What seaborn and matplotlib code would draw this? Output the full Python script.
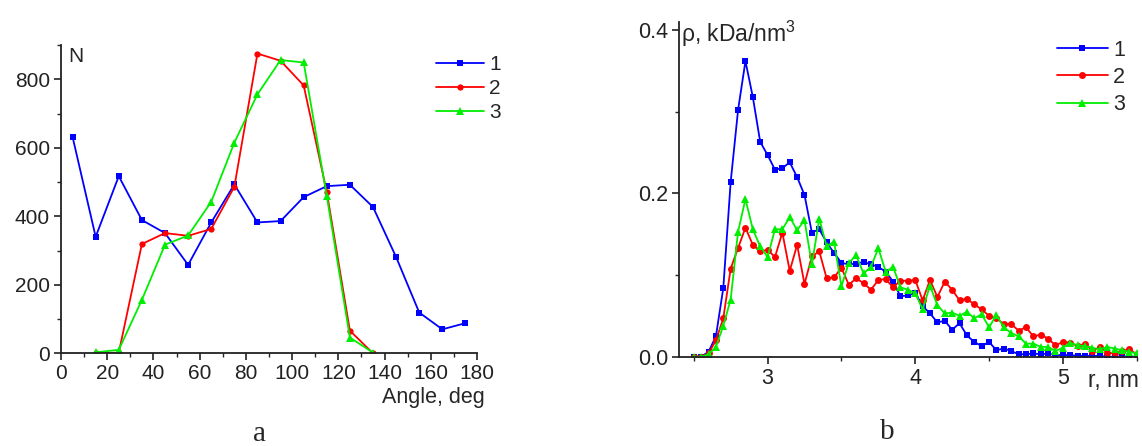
import matplotlib
matplotlib.use("Agg")
import matplotlib.pyplot as plt
import seaborn as sns
import pandas as pd
from matplotlib.ticker import MultipleLocator

# panel a: angle histogram
angle_1 = [5, 15, 25, 35, 45, 55, 65, 75, 85, 95, 105, 115, 125, 135, 145, 155, 165, 175]
count_1 = [632, 340, 517, 389, 351, 258, 382, 493, 382, 386, 456, 488, 492, 427, 281, 119, 70, 88]
angle_23 = [15, 25, 35, 45, 55, 65, 75, 85, 95, 105, 115, 125, 135]
count_2 = [0, 2, 319, 351, 343, 363, 486, 875, 854, 782, 471, 66, 0]
count_3 = [3, 10, 156, 317, 344, 442, 615, 756, 856, 849, 459, 46, 2]

# panel b: density profile
r_nm = [2.5, 2.55, 2.6, 2.65, 2.7, 2.75, 2.8, 2.85, 2.9, 2.95, 3.0,
        3.05, 3.1, 3.15, 3.2, 3.25, 3.3, 3.35, 3.4, 3.45, 3.5,
        3.55, 3.6, 3.65, 3.7, 3.75, 3.8, 3.85, 3.9, 3.95, 4.0,
        4.05, 4.1, 4.15, 4.2, 4.25, 4.3, 4.35, 4.4, 4.45, 4.5,
        4.55, 4.6, 4.65, 4.7, 4.75, 4.8, 4.85, 4.9, 4.95, 5.0,
        5.05, 5.1, 5.15, 5.2, 5.25, 5.3, 5.35, 5.4, 5.45, 5.5]
rho_1 = [0, 0, 0.006, 0.025, 0.084, 0.214, 0.302, 0.362, 0.318, 0.263, 0.247,
         0.229, 0.231, 0.238, 0.220, 0.198, 0.152, 0.156, 0.140, 0.127, 0.115,
         0.113, 0.114, 0.116, 0.113, 0.110, 0.104, 0.092, 0.074, 0.075, 0.078,
         0.062, 0.053, 0.042, 0.044, 0.033, 0.041, 0.026, 0.018, 0.013, 0.018,
         0.008, 0.010, 0.007, 0.003, 0.003, 0.004, 0.003, 0.004, 0.002, 0.002,
         0.002, 0.001, 0.001, 0.001, 0.001, 0.0, 0.0, 0.0, 0.0, 0.0]
rho_2 = [0, 0, 0.004, 0.020, 0.047, 0.108, 0.133, 0.158, 0.137, 0.129, 0.131,
         0.122, 0.152, 0.105, 0.137, 0.089, 0.123, 0.129, 0.096, 0.097, 0.109,
         0.088, 0.096, 0.090, 0.082, 0.094, 0.095, 0.085, 0.093, 0.093, 0.094,
         0.069, 0.094, 0.073, 0.092, 0.082, 0.069, 0.071, 0.064, 0.058, 0.050,
         0.047, 0.040, 0.040, 0.032, 0.036, 0.025, 0.027, 0.022, 0.014, 0.018,
         0.017, 0.013, 0.016, 0.007, 0.012, 0.005, 0.004, 0.007, 0.009, 0.003]
rho_3 = [0, 0, 0.003, 0.012, 0.038, 0.070, 0.153, 0.193, 0.156, 0.135, 0.122,
         0.156, 0.156, 0.171, 0.155, 0.167, 0.113, 0.169, 0.135, 0.141, 0.086,
         0.115, 0.124, 0.102, 0.110, 0.133, 0.104, 0.110, 0.085, 0.082, 0.078,
         0.058, 0.087, 0.063, 0.053, 0.054, 0.050, 0.055, 0.047, 0.052, 0.036,
         0.051, 0.036, 0.029, 0.025, 0.016, 0.016, 0.012, 0.012, 0.007, 0.011,
         0.017, 0.014, 0.013, 0.011, 0.009, 0.012, 0.010, 0.008, 0.006, 0.004]

labels = ["1", "2", "3"]
colors = ["#0000ff", "#ff0000", "#00ee00"]
markers = ["s", "o", "^"]

sns.set_style("ticks")
plt.rcParams["font.family"] = ["Liberation Sans", "DejaVu Sans"]
plt.rcParams["mathtext.fontset"] = "custom"
plt.rcParams["mathtext.rm"] = "Liberation Sans"
plt.rcParams["mathtext.default"] = "regular"
plt.rcParams["axes.linewidth"] = 1.3

W, H = 1142, 446
fig = plt.figure(figsize=(W / 100, H / 100), dpi=100)

def px_axes(left, top, right, bottom):
    return fig.add_axes([left / W, 1 - bottom / H, (right - left) / W, (bottom - top) / H])

ax_a = px_axes(61, 45, 477, 353.3)
ax_b = px_axes(679, 21.9, 1136.7, 356.7)

# panel a
series_a = [(angle_1, count_1), (angle_23, count_2), (angle_23, count_3)]
for (x, y), lab, c, m in zip(series_a, labels, colors, markers):
    sns.lineplot(x=x, y=y, ax=ax_a, color=c, marker=m, markersize=5.5 if m == "^" else 4.5,
                 markeredgewidth=0, linewidth=1.3, label=lab, sort=False, estimator=None)
ax_a.set_xlim(0, 180)
ax_a.set_ylim(0, 900)
ax_a.xaxis.set_major_locator(MultipleLocator(20))
ax_a.xaxis.set_minor_locator(MultipleLocator(10))
ax_a.yaxis.set_major_locator(MultipleLocator(200))
ax_a.yaxis.set_minor_locator(MultipleLocator(100))
ax_a.set_xlabel("")
ax_a.set_ylabel("")

# panel b
for y, lab, c, m in zip([rho_1, rho_2, rho_3], labels, colors, markers):
    sns.lineplot(x=r_nm, y=y, ax=ax_b, color=c, marker=m, markersize=6 if m == "^" else 5,
                 markeredgewidth=0, linewidth=1.3, label=lab, sort=False, estimator=None)
ax_b.set_xlim(2.4, 5.5)
ax_b.set_ylim(0, 0.41)
ax_b.xaxis.set_major_locator(MultipleLocator(1))
ax_b.xaxis.set_minor_locator(MultipleLocator(0.5))
ax_b.yaxis.set_major_locator(MultipleLocator(0.2))
ax_b.yaxis.set_minor_locator(MultipleLocator(0.1))
ax_b.yaxis.set_major_formatter(plt.FormatStrFormatter("%.1f"))
ax_b.set_xlabel("")
ax_b.set_ylabel("")

for ax, fs in ((ax_a, 15), (ax_b, 15.5)):
    sns.despine(ax=ax)
    ax.tick_params(which="major", direction="out", length=5, width=1.2, labelsize=fs, pad=3, colors="#222222")
    ax.tick_params(which="minor", direction="out", length=2.8, width=1.0)
    ax.spines["left"].set_color("#222222")
    ax.spines["bottom"].set_color("#222222")

leg_a = ax_a.legend(loc="upper left", bbox_to_anchor=(436 / W, 1 - 55 / H),
                    bbox_transform=fig.transFigure, frameon=False, fontsize=15,
                    handlelength=2.3, handletextpad=0.25, labelspacing=0.25,
                    borderpad=0, borderaxespad=0, numpoints=1)
leg_b = ax_b.legend(loc="upper left", bbox_to_anchor=(1057 / W, 1 - 40 / H),
                    bbox_transform=fig.transFigure, frameon=False, fontsize=15.5,
                    handlelength=2.35, handletextpad=0.25, labelspacing=0.28,
                    borderpad=0, borderaxespad=0, numpoints=1)

# axis captions, placed like the original
fig.text(68 / W, 1 - 56 / H, "N", fontsize=15, va="center", ha="left")
fig.text(485 / W, 1 - 397 / H, "Angle, deg", fontsize=15.5, va="center", ha="right")
fig.text(681 / W, 1 - 34 / H, "ρ, kDa/nm$^3$", fontsize=16.5, va="center", ha="left")
fig.text(1139 / W, 1 - 380 / H, "r, nm", fontsize=16.5, va="center", ha="right")
fig.text(260 / W, 1 - 434 / H, "a", fontsize=21, va="center", ha="center", family="Liberation Serif")
fig.text(887 / W, 1 - 432 / H, "b", fontsize=21, va="center", ha="center", family="Liberation Serif")

fig.savefig("out.png", dpi=100)
